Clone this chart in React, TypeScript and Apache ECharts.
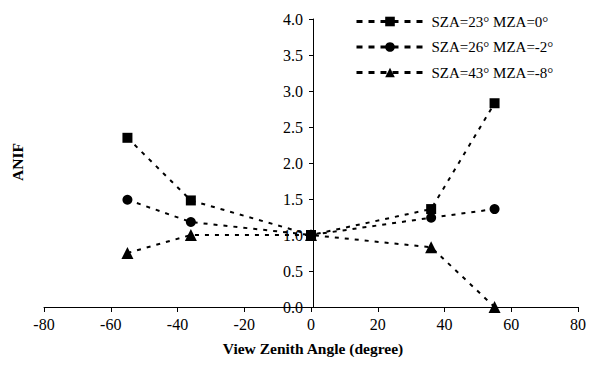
import React, { useEffect, useRef } from "react";
import * as echarts from "echarts";

const xValues = [-55, -36, 0, 36, 55];
const seriesNames = ["SZA=23° MZA=0°", "SZA=26° MZA=-2°", "SZA=43° MZA=-8°"];
const squareVals = [2.35, 1.48, 1.0, 1.36, 2.83];
const circleVals = [1.49, 1.18, 1.0, 1.24, 1.36];
const triangleVals = [0.75, 1.0, 1.0, 0.83, 0.0];
const symbols = ["rect", "circle", "triangle"];
const xTitle = "View Zenith Angle (degree)";
const yTitle = "ANIF";

const FONT = "Liberation Serif";

export default function App() {
  const ref = useRef<HTMLDivElement>(null);
  useEffect(() => {
    if (!ref.current) return;
    document.body.style.margin = "0";
    const chart = echarts.init(ref.current, undefined, { renderer: "svg" });
    const all = [squareVals, circleVals, triangleVals];
    chart.setOption({
      animation: false,
      backgroundColor: "#fff",
      textStyle: { fontFamily: FONT, color: "#000" },
      grid: { left: 44, right: 6, top: 19, bottom: 58 },
      legend: {
        orient: "vertical",
        left: 350,
        top: 9,
        itemWidth: 67,
        itemHeight: 12,
        itemGap: 10.5,
        lineStyle: { width: 3, type: [6, 6] },
        textStyle: { fontFamily: FONT, fontSize: 15, color: "#000", padding: [0, 0, 0, 3] },
        data: seriesNames,
      },
      xAxis: {
        type: "value",
        min: -80,
        max: 80,
        interval: 20,
        splitLine: { show: false },
        axisLine: { onZero: false, lineStyle: { color: "#000", width: 1 } },
        axisTick: { length: 5, lineStyle: { color: "#000" } },
        axisLabel: { color: "#000", fontFamily: FONT, fontSize: 16, margin: 9, showMaxLabel: true },
      },
      yAxis: {
        type: "value",
        min: 0,
        max: 4,
        interval: 0.5,
        offset: -269,
        splitLine: { show: false },
        axisLine: { show: true, onZero: false, lineStyle: { color: "#000", width: 1 } },
        axisTick: { show: true, length: 4, lineStyle: { color: "#000" } },
        axisLabel: {
          color: "#000",
          fontFamily: FONT,
          fontSize: 16,
          margin: 10,
          formatter: (v: number) => v.toFixed(1),
        },
      },
      series: seriesNames.map((name, i) => ({
        name,
        type: "line",
        data: xValues.map((x, j) => [x, all[i][j]]),
        symbol: symbols[i],
        symbolSize: i === 2 ? 12 : 10,
        itemStyle: { color: "#000" },
        lineStyle: { color: "#000", width: 2, type: [4, 6] },
        z: 3,
      })),
      graphic: [
        {
          type: "text",
          x: 17,
          y: 162,
          rotation: Math.PI / 2,
          style: {
            text: yTitle,
            font: `bold 15.5px ${FONT}`,
            fill: "#000",
            align: "center",
            verticalAlign: "middle",
          },
        },
        {
          type: "text",
          x: 313,
          y: 348,
          style: {
            text: xTitle,
            font: `bold 15.5px ${FONT}`,
            fill: "#000",
            align: "center",
            verticalAlign: "middle",
          },
        },
      ],
    });
    return () => chart.dispose();
  }, []);
  return <div ref={ref} style={{ width: 589, height: 365 }} />;
}
